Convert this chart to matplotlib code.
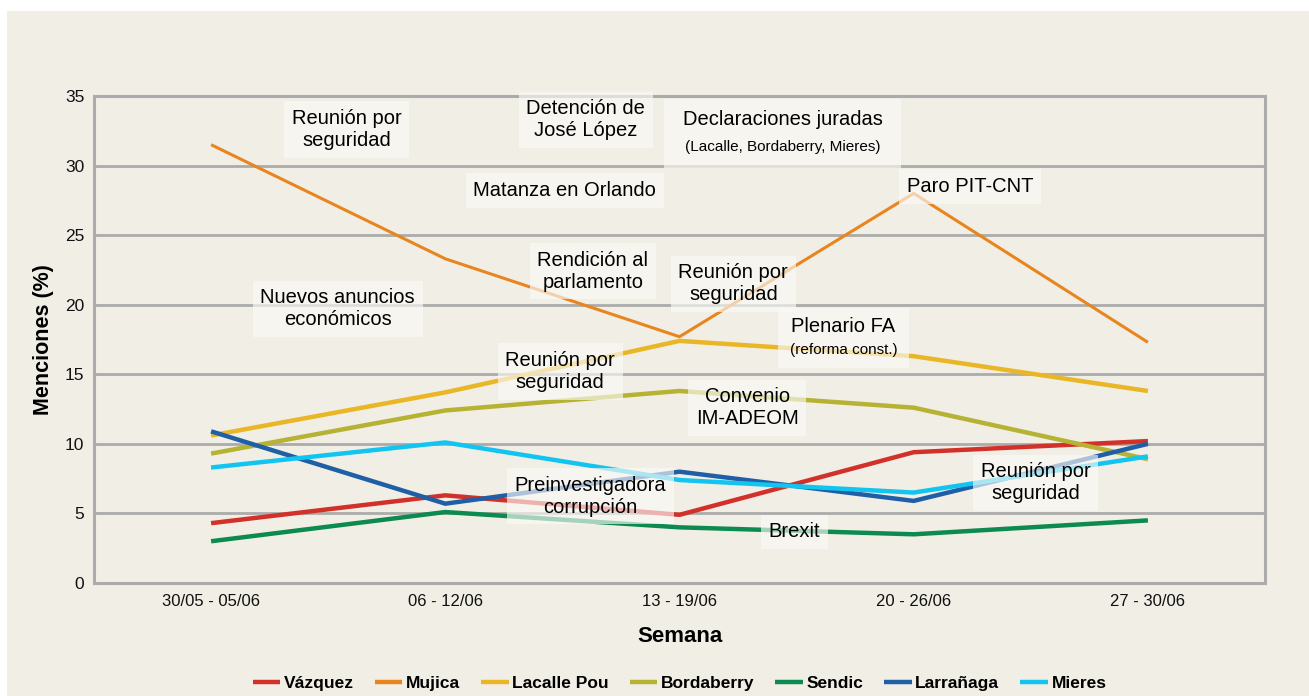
import matplotlib.pyplot as plt
import numpy as np
from matplotlib.patches import Rectangle

semanas = ['30/05 - 05/06', '06 - 12/06', '13 - 19/06', '20 - 26/06', '27 - 30/06']

vazquez = [4.3, 6.3, 4.9, 9.4, 10.2]
mujica = [31.5, 23.3, 17.7, 28.0, 17.3]
lacalle = [10.6, 13.7, 17.4, 16.3, 13.8]
bordaberry = [9.3, 12.4, 13.8, 12.6, 8.9]
sendic = [3.0, 5.1, 4.0, 3.5, 4.5]
larranaga = [10.9, 5.7, 8.0, 5.9, 10.0]
mieres = [8.3, 10.1, 7.4, 6.5, 9.1]

nombres = ['Vázquez', 'Mujica', 'Lacalle Pou', 'Bordaberry', 'Sendic', 'Larrañaga', 'Mieres']
series = [vazquez, mujica, lacalle, bordaberry, sendic, larranaga, mieres]
colores = ['#d2312a', '#e8851e', '#e9b626', '#b5b234', '#0d8a4f', '#1f5fa5', '#12c5f0']

# eventos: texto, posicion x (semana), posicion y (%)
eventos = [
    ('Reunión por\nseguridad', 0.58, 32.6),
    ('Detención de\nJosé López', 1.60, 33.3),
    ('Matanza en Orlando', 1.51, 28.2),
    ('Rendición al\nparlamento', 1.63, 22.4),
    ('Reunión por\nseguridad', 2.23, 21.5),
    ('Paro PIT-CNT', 3.24, 28.5),
    ('Nuevos anuncios\neconómicos', 0.54, 19.7),
    ('Reunión por\nseguridad', 1.49, 15.2),
    ('Convenio\nIM-ADEOM', 2.29, 12.6),
    ('Preinvestigadora\ncorrupción', 1.62, 6.25),
    ('Brexit', 2.49, 3.67),
    ('Reunión por\nseguridad', 3.52, 7.2),
]
# eventos con subtitulo chico: titulo, subtitulo, x, y, ancho, alto
eventos_sub = [
    ('Declaraciones juradas', '(Lacalle, Bordaberry, Mieres)', 2.44, 32.3, 1.01, 4.9),
    ('Plenario FA', '(reforma const.)', 2.70, 17.6, 0.56, 4.3),
]

bg = '#f1eee6'
gris = '#ababab'
caja = '#faf9f6'
plt.rcParams['font.family'] = ['Liberation Sans', 'DejaVu Sans']

fig = plt.figure(figsize=(13.09, 6.96), dpi=100)
fig.patch.set_facecolor('white')
panel = Rectangle((7 / 1309, 0), 1 - 7 / 1309, 1 - 11 / 696,
                  transform=fig.transFigure, facecolor=bg, edgecolor='none', zorder=-10)
fig.add_artist(panel)

ax = fig.add_axes([94 / 1309, 1 - 583 / 696, (1265 - 94) / 1309, (583 - 96) / 696])
ax.set_facecolor(bg)

x = np.arange(len(semanas))
for nombre, s, c in zip(nombres, series, colores):
    lw = 2.2 if nombre == 'Mujica' else 3.2
    ax.plot(x, s, color=c, lw=lw, label=nombre, zorder=3, solid_capstyle='butt')

for txt, ex, ey in eventos:
    ax.text(ex, ey, txt, ha='center', va='center', fontsize=14.5, zorder=4,
            linespacing=1.2,
            bbox=dict(boxstyle='square,pad=0.38', fc=caja, ec='none', alpha=0.65))

for tit, sub, ex, ey, w, h in eventos_sub:
    ax.add_patch(Rectangle((ex - w / 2, ey - h / 2), w, h, facecolor=caja,
                           edgecolor='none', alpha=0.65, zorder=4))
    ax.text(ex, ey + h * 0.2, tit, ha='center', va='center', fontsize=14.5, zorder=5)
    ax.text(ex, ey - h * 0.2, sub, ha='center', va='center', fontsize=11, zorder=5)

ax.set_xlim(-0.5, len(semanas) - 0.5)
ax.set_ylim(0, 35)
ax.set_yticks(np.arange(0, 36, 5))
ax.set_xticks(x)
ax.set_xticklabels(semanas)
ax.tick_params(axis='both', length=0, colors='#111111')
ax.tick_params(axis='x', labelsize=12, pad=8)
ax.tick_params(axis='y', labelsize=12.5, pad=7)
ax.grid(axis='y', color=gris, lw=2, zorder=1)
for sp in ax.spines.values():
    sp.set_color(gris)
    sp.set_linewidth(2.2)

ax.set_ylabel('Menciones (%)', fontsize=15.5, fontweight='bold', labelpad=8)
ax.set_xlabel('Semana', fontsize=16, fontweight='bold', labelpad=12)

leg = ax.legend(loc='center', bbox_to_anchor=(0.5, -0.207), ncol=7, frameon=False,
                handlelength=1.6, handletextpad=0.2, columnspacing=1.2,
                prop=dict(weight='bold', size=12.5))
for h in leg.legend_handles:
    h.set_linewidth(3.2)

plt.savefig('out.png', dpi=100)
